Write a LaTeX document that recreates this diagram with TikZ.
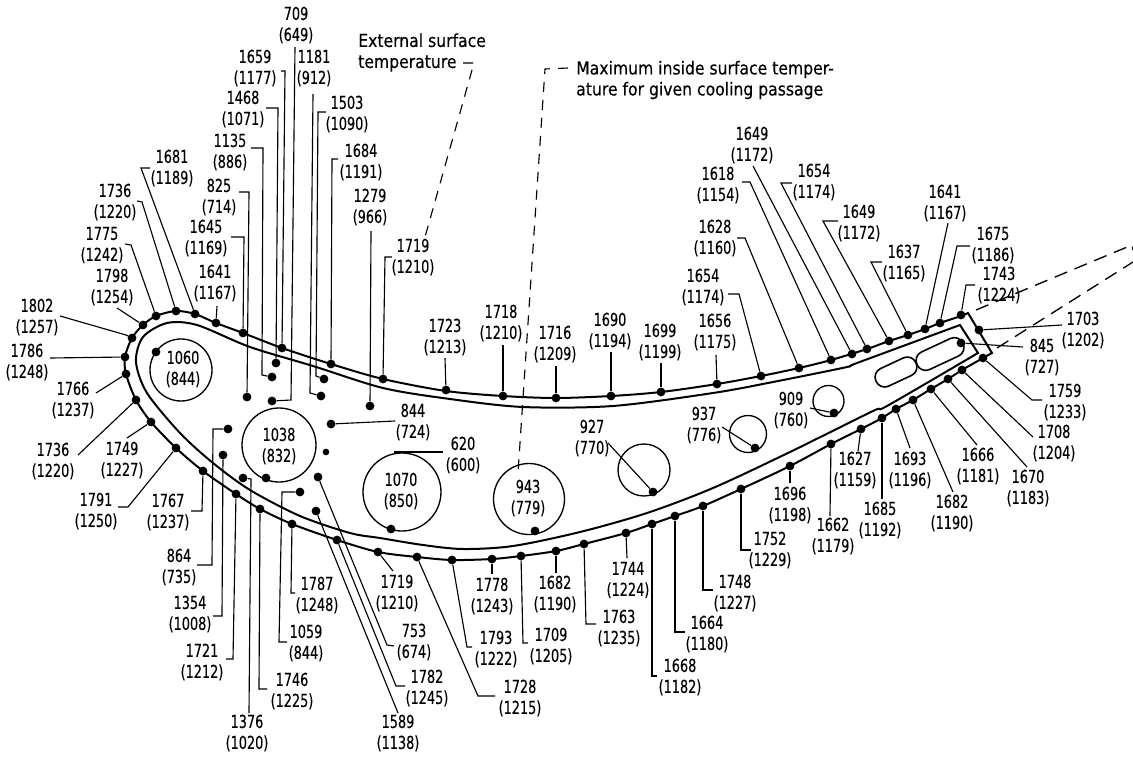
\documentclass[tikz,border=0pt]{standalone}
\usepackage{fontspec}
\newfontfamily\digfont[FakeStretch=0.72,FakeBold=0.3]{DejaVu Sans}
\newfontfamily\txtfont[FakeStretch=0.875,FakeBold=0.3]{DejaVu Sans}
\newcounter{k}
\tikzset{
  lab/.style={inner sep=0pt,align=center,font=\digfont\fontsize{13.4}{15.75}\selectfont},
  note/.style={inner sep=0pt,anchor=west,align=left,font=\txtfont\fontsize{13.4}{15.75}\selectfont},
  dotn/.style={circle,fill=black,inner sep=0pt,minimum size=6.6pt},
  ld/.style={line width=.85pt,line join=miter},
  dl/.style={line width=.85pt,dash pattern=on 7.5pt off 6pt},
  bl/.style={line width=1.5pt,line join=miter},
  cir/.style={line width=1pt},
  slot/.style={draw,line width=1.2pt,rounded corners=7pt,inner sep=0pt,minimum height=14.5pt}
}
% label xy, number, number in brackets, dot xy, leader start xy, route
\newcommand\T[6]{\stepcounter{k}%
  \node[dotn] (D\thek) at (#4) {};
  \node[lab] (L\thek) at (#1) {#2\\(#3)};
  \coordinate (S\thek) at (#5);
  \draw[ld] (S\thek) #6 -- (D\thek);}
% circle centre, radius, label xy, number, bracket, dot xy
\newcommand\C[6]{\stepcounter{k}%
  \node[dotn] (D\thek) at (#6) {};
  \node[lab] (L\thek) at (#3) {#4\\(#5)};
  \draw[cir] (#1) circle (#2);}
\begin{document}
\begin{tikzpicture}[x=.75pt,y=-.75pt]
\useasboundingbox (0,0) rectangle (1133,761);
% blade outer wall
\draw[bl] plot[smooth,tension=.5] coordinates {(992,353) (983,358) (962,370) (948,379) (931,389) (913,400) (896,409) (882,418) (861,429) (831,444) (790,466) (741,489) (703,506) (675,516) (652,524) (626,533) (584,544) (556,551) (521,556) (492,559) (452,560) (417,557) (378,552) (337,540) (292,524) (260,509) (236,494) (203,471) (176,448) (151,422) (136,400) (126,374) (125,357) (132,338) (143,325) (156,316) (176,311) (195,314) (216,323) (243,333) (282,348) (331,364) (383,379) (446,391) (503,396) (556,398) (611,396) (661,392) (717,384) (761,376) (799,368) (831,360) (867,349) (889,341) (908,335) (925,329) (940,323) (961,316) (968,313)} -- cycle;
% blade inner wall
\draw[bl] plot[smooth,tension=.5] coordinates {(978,353) (887,406) (873,411) (790,452) (713,488) (647,513) (580,532) (513,546) (463,549) (423,545) (380,538) (350,533) (300,516) (250,490) (213,463) (180,433) (147,393) (136,362) (143,337) (167,323) (197,325) (250,347) (313,366) (383,388) (450,399) (523,407) (613,406) (713,393) (773,382) (847,367) (857,363) (960,325)} -- cycle;
% cooling slots at trailing edge
\node[slot,minimum width=33pt,rotate=25] (slotA) at (896,372) {};
\node[slot,minimum width=38pt,rotate=25] (slotB) at (940,354) {};
% trailing edge extension
\coordinate (e1) at (976,310);
\coordinate (e2) at (1132,245);
\coordinate (e3) at (1133,250);
\coordinate (e4) at (997,348);
\coordinate (e5) at (1133,262);
\draw[line width=1pt,dash pattern=on 10pt off 6pt] (e1) -- (e2) -- (e3);
\draw[line width=1pt,dash pattern=on 10pt off 6pt] (e4) -- (e5);
% circular passages with inner labels
\C{181,370}{31}{183,369}{1060}{844}{156,352}
\C{279,445}{37}{279,446}{1038}{832}{266,478}
\C{402,492}{39}{401,491}{1070}{850}{391,529}
\C{529,499}{35.5}{528,498}{943}{779}{535,531}
\draw[cir] (644,470) circle (26);
\draw[cir] (748,434) circle (18.5);
\draw[cir] (828.5,401) circle (15.5);
% top of blade, left to right
\T{296,25}{709}{649}{272,401}{295,47}{-- (291,400)}
\T{255,68}{1659}{1177}{282,348}{281,71}{-- (285,71)}
\T{314,68}{1181}{912}{321,396}{313,94}{-- (310,393)}
\T{243,109}{1468}{1071}{276,363}{266,108}{-- (278,108)}
\T{347,114}{1503}{1090}{324,379}{326,112}{-- (318,112) -- (316,376)}
\T{230,152}{1135}{886}{272,377}{251,148}{-- (263,148) -- (262,375)}
\T{361,162}{1684}{1191}{331,364}{338,159}{-- (332,159)}
\T{219,197}{825}{714}{247,397}{239,192}{-- (249,192)}
\T{370,207}{1279}{966}{370,406}{371,231}{}
\T{172,168}{1681}{1189}{195,314}{150,168}{-- (141,168)}
\T{115,202}{1736}{1220}{176,311}{137,201}{-- (142,202)}
\T{102,245}{1775}{1242}{156,316}{125,244}{-- (131,245)}
\T{112,287}{1798}{1254}{143,325}{117,308}{}
\T{37,317}{1802}{1257}{132,338}{60,316}{-- (126,335)}
\T{27,362}{1786}{1248}{125,357}{50,358}{}
\T{73,400}{1766}{1237}{126,374}{96,393}{}
\T{53,461}{1736}{1220}{136,400}{78,455}{}
\T{122,460}{1749}{1227}{151,422}{127,438}{}
\T{96,511}{1791}{1250}{176,448}{118,507}{-- (128,507)}
\T{168,512}{1767}{1237}{203,471}{191,511}{-- (202,511)}
\T{206,238}{1645}{1169}{243,333}{231,237}{-- (244,237)}
\T{215,283}{1641}{1167}{216,323}{217,306}{}
\T{413,257}{1719}{1210}{383,379}{392,257}{-- (385,257)}
\T{445,337}{1723}{1213}{446,390}{445,358}{}
\T{501,323}{1718}{1210}{503,396}{503,345}{}
\T{555,344}{1716}{1209}{556,398}{556,366}{}
\T{610,331}{1690}{1194}{611,396}{611,352}{}
\T{660,342}{1699}{1199}{661,392}{661,363}{}
\T{715,332}{1656}{1175}{717,384}{716,355}{}
\T{703,287}{1654}{1174}{761,376}{728,294}{-- (739,294)}
\T{715,238}{1628}{1160}{799,368}{737,238}{-- (745,238)}
\T{718,185}{1618}{1154}{831,360}{742,182}{-- (750,182)}
\T{752,145}{1649}{1172}{852,354}{753,166}{}
\T{814,182}{1654}{1174}{867,349}{792,183}{-- (781,183)}
\T{859,223}{1649}{1172}{889,341}{838,221}{-- (823,221)}
\T{904,263}{1637}{1165}{908,335}{882,262}{-- (871,262)}
\T{945,203}{1641}{1167}{925,329}{948,223}{}
\T{993,245}{1675}{1186}{940,323}{970,246}{-- (957,246)}
\T{999,285}{1743}{1224}{961,315}{975,285}{-- (966,285)}
% trailing edge
\T{1083,330}{1703}{1202}{979,330}{1062,325}{}
\T{1042,357}{845}{727}{961,343}{1023,347}{}
\T{1065,402}{1759}{1233}{983,358}{1042,400}{-- (1032,400)}
\T{1054,443}{1708}{1204}{962,370}{1033,437}{}
\T{1028,488}{1670}{1183}{948,379}{1027,467}{}
\T{978,466}{1666}{1181}{931,389}{977,445}{}
\T{952,513}{1682}{1190}{913,400}{953,492}{}
\T{910,470}{1693}{1196}{896,409}{910,448}{}
\T{880,520}{1685}{1192}{882,418}{882,499}{}
\T{855,470}{1627}{1159}{861,429}{858,451}{}
\T{833,536}{1662}{1179}{831,444}{830,516}{}
\T{790,505}{1696}{1198}{790,466}{790,483}{}
% underside
\T{770,550}{1752}{1229}{741,489}{751,550}{-- (741,550)}
\T{735,593}{1748}{1227}{703,506}{713,590}{-- (703,590)}
\T{707,634}{1664}{1180}{675,516}{685,632}{-- (675,632)}
\T{680,677}{1668}{1182}{652,524}{657,676}{-- (652,676)}
\T{628,580}{1744}{1224}{626,533}{627,558}{}
\T{619,628}{1763}{1235}{584,544}{596,624}{-- (586,624)}
\T{555,594}{1682}{1190}{556,551}{556,573}{}
\T{551,646}{1709}{1205}{521,556}{528,643}{-- (523,643)}
\T{492,596}{1778}{1243}{492,559}{492,574}{}
\T{496,649}{1793}{1222}{452,560}{472,647}{-- (467,647)}
\T{520,698}{1728}{1215}{417,557}{495,696}{-- (478,696)}
\T{397,593}{1719}{1210}{378,552}{393,571}{}
\T{414,642}{753}{674}{318,477}{394,646}{-- (387,645)}
\T{427,688}{1782}{1245}{337,540}{405,686}{-- (396,686)}
\T{398,733}{1589}{1138}{316,511}{398,713}{}
\T{317,595}{1787}{1248}{292,524}{295,593}{-- (291,593)}
\T{306,643}{1059}{844}{300,492}{287,642}{-- (279,642) -- (282,492)}
\T{292,691}{1746}{1225}{260,509}{267,689}{-- (259,689)}
\T{247,733}{1376}{1020}{243,478}{249,713}{-- (251,479)}
\T{202,662}{1721}{1212}{236,494}{226,659}{-- (233,659)}
\T{190,614}{1354}{1008}{223,455}{213,616}{-- (222,616)}
\T{179,567}{864}{735}{228,429}{197,565}{-- (212,565) -- (213,429)}
% interior labels with leaders
\T{413,422}{844}{724}{331,424}{395,421}{}
\T{592,438}{927}{770}{653,492}{608,443}{}
\T{704,425}{937}{776}{755,448}{722,427}{}
\T{791,410}{909}{760}{834,413}{810,408}{}
% 620 (600): broken leader, small marker
\node[dotn,minimum size=5pt] (D620) at (326,452) {};
\node[lab] (L620) at (463,455) {620\\(600)};
\coordinate (S620) at (443,452);
\coordinate (E620) at (394,452);
\draw[ld] (S620) -- (E620);
% notes with dashed leaders
\node[note] (ext) at (358,52.5) {External surface\\temperature};
\coordinate (x1) at (463,63);
\coordinate (x2) at (474,63);
\coordinate (x3) at (425,237);
\draw[dl] (x1) -- (x2) -- (x3);
\node[note] (maxt) at (576,80) {Maximum inside surface temper-\\ature for given cooling passage};
\coordinate (m1) at (568,68);
\coordinate (m2) at (545,69);
\coordinate (m3) at (518,473);
\draw[dl] (m1) -- (m2) -- (m3);
\end{tikzpicture}
\end{document}
